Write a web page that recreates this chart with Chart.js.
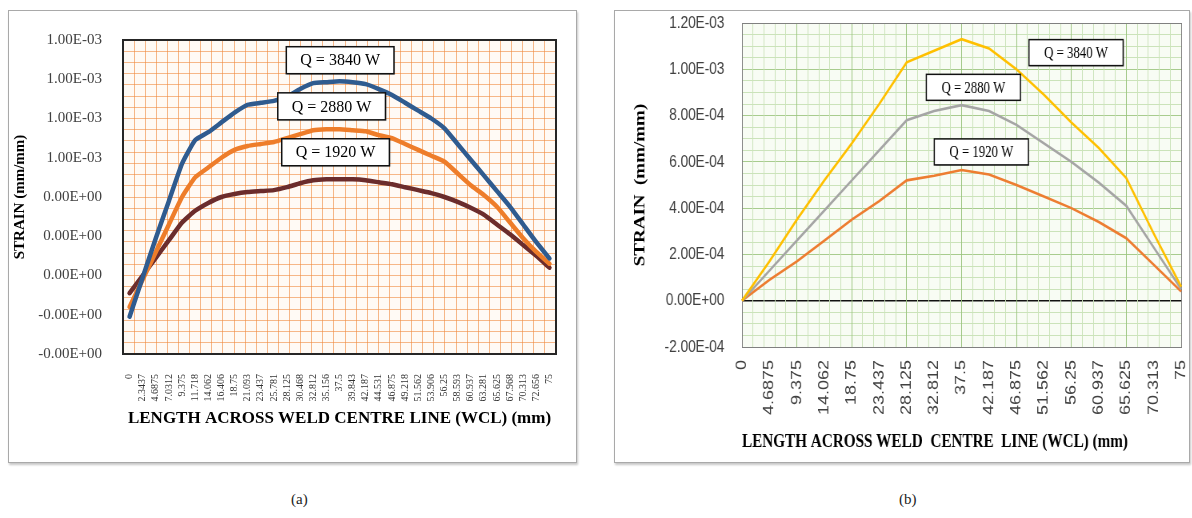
<!DOCTYPE html>
<html>
<head>
<meta charset="utf-8">
<title>Strain across weld centre line</title>
<script src="https://cdn.jsdelivr.net/npm/chart.js@4.4.1/dist/chart.umd.min.js"></script>
<style>
  html, body { margin: 0; padding: 0; background: #fff; }
  body { width: 1192px; height: 518px; position: relative; overflow: hidden; }
  .frame { position: absolute; border: 1.5px solid #a9a9a9; box-shadow: 1px 2px 2px rgba(0,0,0,0.22); box-sizing: border-box; }
  #frameA { left: 8px; top: 10px; width: 569px; height: 453px; }
  #frameB { left: 614px; top: 10px; width: 576px; height: 453px; }
  #chartA { position: absolute; left: 8px; top: 10px; }
  #chartB { position: absolute; left: 614px; top: 10px; transform: scaleX(0.8); transform-origin: 0 0; }
  .cap { position: absolute; top: 491px; font: 15px 'Liberation Serif', serif; color: #222; }
</style>
</head>
<body>
<div class="frame" id="frameA"></div>
<div class="frame" id="frameB"></div>
<canvas id="chartA" width="569" height="453"></canvas>
<canvas id="chartB" width="720" height="453"></canvas>
<div class="cap" style="left:291px">(a)</div>
<div class="cap" style="left:899px">(b)</div>

<script>
        // ---- (a) data: 33 positions across the WCL (mm) ----
        const wclA = ['0', '2.3437', '4.6875', '7.0312', '9.375', '11.718', '14.062', '16.406', '18.75',
            '21.093', '23.437', '25.781', '28.125', '30.468', '32.812', '35.156', '37.5', '39.843', '42.187',
            '44.531', '46.875', '49.218', '51.562', '53.906', '56.25', '58.593', '60.937', '63.281', '65.625',
            '67.968', '70.313', '72.656', '75'];
        const q3840A = [-0.00021, -0.00001, 0.00019, 0.00038, 0.00057, 0.00069, 0.00073, 0.00078, 0.00083,
            0.00087, 0.00088, 0.00089, 0.00091, 0.00095, 0.00098, 0.000985, 0.00099, 0.000985, 0.000975,
            0.00095, 0.00092, 0.00088, 0.00084, 0.0008, 0.00075, 0.00067, 0.00059, 0.00051, 0.00043,
            0.00035, 0.00026, 0.00017, 0.000087];
        const q2880A = [-0.00016, -0.00002, 0.00012, 0.00026, 0.0004, 0.0005, 0.00055, 0.0006, 0.00064,
            0.00066, 0.00067, 0.00068, 0.0007, 0.00072, 0.00074, 0.000745, 0.000745, 0.00074, 0.000735,
            0.000715, 0.0007, 0.00067, 0.00064, 0.00061, 0.00058, 0.00052, 0.00046, 0.00041, 0.00035,
            0.00027, 0.00019, 0.00012, 0.00006];
        const q1920A = [-0.00009, 0, 0.00009, 0.00018, 0.00027, 0.00033, 0.00037, 0.0004, 0.000415,
            0.000425, 0.00043, 0.000435, 0.00045, 0.00047, 0.000485, 0.00049, 0.00049, 0.00049, 0.000485,
            0.000475, 0.000465, 0.00045, 0.000435, 0.00042, 0.0004, 0.000375, 0.000345, 0.00031, 0.00026,
            0.00021, 0.000155, 0.0001, 0.00004];
        // tick labels exactly as printed, bottom to top
        const yTicksA = ['-0.00E+00', '-0.00E+00', '0.00E+00', '0.00E+00', '0.00E+00',
            '1.00E-03', '1.00E-03', '1.00E-03', '1.00E-03'];

        // ---- (b) data: 17 positions across the WCL (mm) ----
        const wclB = ['0', '4.6875', '9.375', '14.062', '18.75', '23.437', '28.125', '32.812', '37.5',
            '42.187', '46.875', '51.562', '56.25', '60.937', '65.625', '70.313', '75'];
        const q3840B = [0, 0.00017, 0.00035, 0.00052, 0.00068, 0.00085, 0.00103, 0.00108, 0.00113,
            0.00109, 0.001, 0.00089, 0.00077, 0.00066, 0.00053, 0.00029, 0.00006];
        const q2880B = [0, 0.00013, 0.00026, 0.00039, 0.00052, 0.00065, 0.00078, 0.00082, 0.000845,
            0.00082, 0.00076, 0.00068, 0.0006, 0.00051, 0.00041, 0.00023, 0.00005];
        const q1920B = [0, 0.00009, 0.00017, 0.00026, 0.00035, 0.00043, 0.00052, 0.00054, 0.000565,
            0.000545, 0.0005, 0.00045, 0.0004, 0.00034, 0.00027, 0.000155, 0.00004];
        const yTicksB = ['-2.00E-04', '0.00E+00', '2.00E-04', '4.00E-04', '6.00E-04', '8.00E-04',
            '1.00E-03', '1.20E-03'];

        const heatInputs = ['Q = 3840 W', 'Q = 2880 W', 'Q = 1920 W'];

        const serif = 'Liberation Serif';
        const sans = 'Liberation Sans';

        // paints the plot area background
        const plotBg = {
            id: 'plotBg',
            beforeDraw(chart, args, opts) {
                const { ctx, chartArea: a } = chart;
                ctx.save();
                ctx.fillStyle = opts.color;
                ctx.fillRect(a.left, a.top, a.right - a.left, a.bottom - a.top);
                ctx.restore();
            }
        };

        // boxed "Q = ... W" notes, anchored in data space
        function noteBoxes(anchors, style) {
            return {
                id: 'noteBoxes',
                afterDatasetsDraw(chart) {
                    const { ctx, scales } = chart;
                    ctx.save();
                    ctx.font = style.font;
                    ctx.textAlign = 'center';
                    ctx.textBaseline = 'middle';
                    heatInputs.forEach((text, i) => {
                        const cx = scales.x.getPixelForValue(anchors[i][0]);
                        const cy = scales.y.getPixelForValue(anchors[i][1]);
                        const w = ctx.measureText(text).width + style.padX * 2;
                        const h = style.height;
                        ctx.shadowColor = 'rgba(0,0,0,0.25)';
                        ctx.shadowOffsetX = 1;
                        ctx.shadowOffsetY = 1;
                        ctx.shadowBlur = 1;
                        ctx.fillStyle = '#fff';
                        ctx.fillRect(cx - w / 2, cy - h / 2, w, h);
                        ctx.shadowColor = 'transparent';
                        ctx.lineWidth = style.lineWidth;
                        ctx.strokeStyle = '#111';
                        ctx.strokeRect(cx - w / 2, cy - h / 2, w, h);
                        ctx.fillStyle = '#000';
                        ctx.fillText(text, cx, cy + 1);
                    });
                    ctx.restore();
                }
            };
        }

        function isMajor(v, step) {
            return Math.abs(v / step - Math.round(v / step)) < 1e-6;
        }

        // keep label overhang from shrinking the plot area
        function noSidePad(s) { s.paddingLeft = 0; s.paddingRight = 0; }
        function noEndPad(s) { s.paddingTop = 0; s.paddingBottom = 0; }

        // ---------------- Chart (a) ----------------
        new Chart(document.getElementById('chartA'), {
            type: 'line',
            data: {
                labels: wclA,
                datasets: [
                    { label: heatInputs[0], data: q3840A, borderColor: '#2f5b8f', borderWidth: 4.5 },
                    { label: heatInputs[1], data: q2880A, borderColor: '#ee7d2a', borderWidth: 4.5 },
                    { label: heatInputs[2], data: q1920A, borderColor: '#6b2c2c', borderWidth: 4.5 }
                ].map(d => Object.assign(d, { pointRadius: 0, tension: 0.15, borderJoinStyle: 'round', borderCapStyle: 'round' }))
            },
            options: {
                responsive: false,
                animation: false,
                layout: { padding: { left: 0, right: 21, top: 30, bottom: 32 } },
                plugins: {
                    legend: { display: false },
                    tooltip: { enabled: false },
                    plotBg: { color: '#fffaf5' }
                },
                scales: {
                    x: {
                        offset: true,
                        grid: { display: false, drawTicks: false },
                        border: { color: '#262626', width: 2 },
                        ticks: {
                            autoSkip: false, minRotation: 90, maxRotation: 90, padding: 20,
                            color: '#333', font: { family: serif, size: 10 }
                        },
                        title: {
                            display: true, text: 'LENGTH ACROSS WELD CENTRE LINE (WCL) (mm)', color: '#000',
                            font: { family: serif, size: 17, weight: 'bold' }, padding: { top: 0, bottom: 2 }
                        },
                        afterFit: s => { s.height = 77; noSidePad(s); }
                    },
                    y: {
                        min: -0.0004,
                        max: 0.0012,
                        grid: {
                            drawTicks: false, lineWidth: 2,
                            color: c => (c.tick && c.tick.value === 0) ? '#1a1a1a' : 'transparent'
                        },
                        border: { color: '#262626', width: 2 },
                        ticks: {
                            stepSize: 0.0002, padding: 21, color: '#404040', font: { family: serif, size: 15 },
                            callback: v => yTicksA[Math.round((v + 0.0004) / 0.0002)]
                        },
                        title: {
                            display: true, text: 'STRAIN (mm/mm)', color: '#000',
                            font: { family: serif, size: 15, weight: 'bold' }, padding: { top: 3, bottom: 0 }
                        },
                        afterFit: s => { s.width = 115; noEndPad(s); }
                    },
                    // graph paper columns / rows
                    gx: {
                        type: 'linear', axis: 'x', position: 'top', min: 0, max: 39,
                        ticks: { display: false, stepSize: 1 },
                        grid: { drawTicks: false, color: 'rgba(240,138,64,0.6)', lineWidth: 1 },
                        border: { color: '#262626', width: 2 }
                    },
                    gy: {
                        type: 'linear', axis: 'y', position: 'right', min: 0, max: 28,
                        ticks: { display: false, stepSize: 1 },
                        grid: { drawTicks: false, color: 'rgba(240,138,64,0.6)', lineWidth: 1 },
                        border: { color: '#262626', width: 2 }
                    }
                }
            },
            plugins: [plotBg, noteBoxes([[16.05, 0.001097], [15.4, 0.000862], [15.7, 0.000628]],
                { font: '16px "Liberation Serif"', padX: 14, height: 27, lineWidth: 1.5 })]
        });

        // ---------------- Chart (b) ----------------
        new Chart(document.getElementById('chartB'), {
            type: 'line',
            data: {
                labels: wclB,
                datasets: [
                    { label: heatInputs[0], data: q3840B, borderColor: '#ffc000' },
                    { label: heatInputs[1], data: q2880B, borderColor: '#a5a5a5' },
                    { label: heatInputs[2], data: q1920B, borderColor: '#ed7d31' }
                ].map(d => Object.assign(d, { pointRadius: 0, borderWidth: 2.6, tension: 0 }))
            },
            options: {
                responsive: false,
                animation: false,
                layout: { padding: { left: 0, right: 11, top: 13, bottom: 8 } },
                plugins: {
                    legend: { display: false },
                    tooltip: { enabled: false },
                    plotBg: { color: '#f8fcf4' }
                },
                scales: {
                    x: {
                        offset: false,
                        grid: { display: false, drawTicks: false },
                        border: { color: '#808080', width: 1 },
                        ticks: {
                            autoSkip: false, minRotation: 90, maxRotation: 90, padding: 13,
                            color: '#404040', font: { family: sans, size: 18 }
                        },
                        title: {
                            display: true, align: 'start', text: 'LENGTH ACROSS WELD  CENTRE  LINE (WCL) (mm)', color: '#000',
                            font: { family: serif, size: 19, weight: 'bold' }, padding: { top: 0, bottom: 2 }
                        },
                        afterFit: s => { s.height = 108; noSidePad(s); }
                    },
                    y: {
                        min: -0.0002,
                        max: 0.0012,
                        grid: {
                            drawTicks: false,
                            lineWidth: c => (c.tick && c.tick.value === 0) ? 1.6 : 1,
                            color: c => {
                                const v = c.tick ? c.tick.value : 1;
                                if (v === 0) return '#111';
                                return isMajor(v, 0.0002) ? '#a8cc8e' : '#cbe3ba';
                            }
                        },
                        border: { color: '#808080', width: 1 },
                        ticks: {
                            autoSkip: false,
                            stepSize: 0.00005, padding: 22, color: '#404040', font: { family: sans, size: 17 },
                            callback: v => isMajor(v, 0.0002) ? yTicksB[Math.round((v + 0.0002) / 0.0002)] : ''
                        },
                        title: {
                            display: true, text: 'STRAIN  (mm/mm)', color: '#000',
                            font: { family: serif, size: 19, weight: 'bold' }, padding: { top: 22, bottom: 0 }
                        },
                        afterFit: s => { s.width = 160; noEndPad(s); }
                    },
                    gx: {
                        type: 'linear', axis: 'x', position: 'top', min: 0, max: 40,
                        ticks: { display: false, stepSize: 1 },
                        grid: {
                            drawTicks: false,
                            color: c => (c.tick && c.tick.value % 5 === 0) ? '#9cc580' : '#cbe3ba'
                        },
                        border: { color: '#808080', width: 1 }
                    },
                    gr: {
                        type: 'linear', axis: 'y', position: 'right', min: 0, max: 1,
                        ticks: { display: false },
                        grid: { display: false, drawTicks: false },
                        border: { color: '#808080', width: 1 }
                    }
                }
            },
            plugins: [plotBg, noteBoxes([[12.17, 0.001072], [8.43, 0.000922], [8.72, 0.000643]],
                { font: '16px "Liberation Serif"', padX: 19, height: 26, lineWidth: 1.5 })]
        });
</script>
</body>
</html>
